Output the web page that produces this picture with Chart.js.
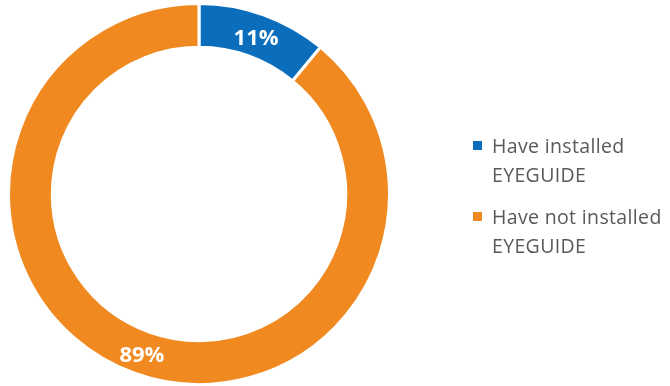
<!DOCTYPE html>
<html>
<head>
<meta charset="utf-8">
<script src="https://cdn.jsdelivr.net/npm/chart.js@4"></script>
<style>
  html, body { margin: 0; padding: 0; background: #fff; }
  #wrap { position: relative; width: 670px; height: 386px; }
  #legend { position: absolute; left: 473px; top: 131px; font-family: "Open Sans", sans-serif; font-size: 19.5px; letter-spacing: 0.35px; color: #595959; line-height: 29px; }
  .item { display: flex; align-items: flex-start; margin-bottom: 13px; }
  .box { width: 9px; height: 9px; margin-top: 10px; margin-right: 10px; flex: none; }
</style>
</head>
<body>
<div id="wrap">
  <canvas id="donutChart" width="670" height="386"></canvas>
  <div id="legend"></div>
</div>
<script>
// Data
const labels = [["Have installed", "EYEGUIDE"], ["Have not installed", "EYEGUIDE"]];
const values = [11, 89];
const colors = ["#0A6EBD", "#F0891F"];

// HTML legend
const legendEl = document.getElementById("legend");
labels.forEach(function (lines, i) {
  const item = document.createElement("div");
  item.className = "item";
  item.innerHTML = '<span class="box" style="background:' + colors[i] + '"></span><span>' + lines.join("<br>") + "</span>";
  legendEl.appendChild(item);
});

// Percent labels inside slices
const sliceLabels = {
  id: "sliceLabels",
  afterDatasetsDraw(chart) {
    const ctx = chart.ctx;
    const meta = chart.getDatasetMeta(0);
    ctx.save();
    ctx.fillStyle = "#ffffff";
    ctx.font = "bold 22px 'Open Sans', sans-serif";
    ctx.textAlign = "center";
    ctx.textBaseline = "middle";
    meta.data.forEach(function (arc, i) {
      const p = arc.tooltipPosition();
      ctx.fillText(values[i] + "%", p.x, p.y + 3);
    });
    ctx.restore();
  },
};

new Chart(document.getElementById("donutChart").getContext("2d"), {
  type: "doughnut",
  data: {
    labels: labels.map((l) => l.join(" ")),
    datasets: [
      {
        data: values,
        backgroundColor: colors,
        borderColor: "#ffffff",
        borderWidth: 3,
      },
    ],
  },
  options: {
    responsive: false,
    animation: false,
    cutout: "77%",
    layout: { padding: { left: 7, right: 279, top: 2, bottom: 0 } },
    plugins: { legend: { display: false }, tooltip: { enabled: false } },
  },
  plugins: [sliceLabels],
});
</script>
</body>
</html>
